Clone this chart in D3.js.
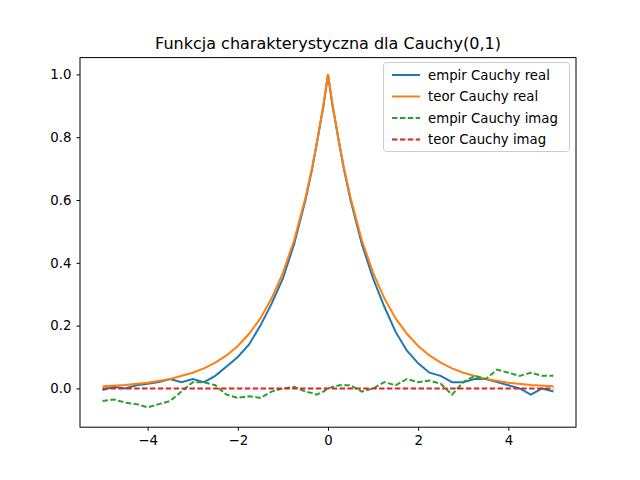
<!DOCTYPE html>
<html><head><meta charset="utf-8">
<script src="https://cdn.jsdelivr.net/npm/d3@7"></script>
<style>body{margin:0;background:#fff}text{font-family:"DejaVu Sans",sans-serif}</style>
</head><body>
<script>
const tEmp = [-5,-4.75,-4.5,-4.25,-4,-3.75,-3.5,-3.25,-3,-2.75,-2.5,-2.25,-2,-1.75,-1.5,-1.25,-1,-0.75,-0.5,-0.35,-0.25,-0.1,0,0.1,0.25,0.35,0.5,0.75,1,1.25,1.5,1.75,2,2.25,2.5,2.75,3,3.25,3.5,3.75,4,4.25,4.5,4.75,5];
const empReal = [-0.005,0.005,0.0,0.01,0.015,0.02,0.03,0.02,0.03,0.02,0.04,0.07,0.1,0.14,0.2,0.27,0.35,0.46,0.6,0.7,0.78,0.9,1.0,0.9,0.78,0.7,0.6,0.46,0.35,0.26,0.18,0.12,0.08,0.05,0.04,0.02,0.02,0.03,0.03,0.02,0.01,0.0,-0.02,0.0,-0.01];
const empImag = [-0.04,-0.035,-0.045,-0.05,-0.06,-0.05,-0.04,-0.01,0.02,0.02,0.01,-0.02,-0.03,-0.025,-0.03,-0.01,0.0,0.005,-0.01,-0.015,-0.02,-0.01,0.0,0.005,0.01,0.01,0.01,-0.01,0.0,0.02,0.01,0.03,0.02,0.025,0.015,-0.02,0.02,0.04,0.03,0.06,0.05,0.04,0.05,0.04,0.04];
const tTeor = [-5,-4.5,-4,-3.5,-3,-2.75,-2.5,-2.25,-2,-1.75,-1.5,-1.25,-1,-0.75,-0.5,-0.35,-0.25,-0.1,0,0.1,0.25,0.35,0.5,0.75,1,1.25,1.5,1.75,2,2.25,2.5,2.75,3,3.5,4,4.5,5];
const teorReal = [0.007,0.011,0.018,0.030,0.050,0.064,0.082,0.105,0.135,0.174,0.223,0.287,0.368,0.472,0.607,0.705,0.779,0.905,1.0,0.905,0.779,0.705,0.607,0.472,0.368,0.287,0.223,0.174,0.135,0.105,0.082,0.064,0.050,0.030,0.018,0.011,0.007];
const teorImag = tTeor.map(() => 0);
const xTicks = [-4,-2,0,2,4];
const yTicks = [0.0,0.2,0.4,0.6,0.8,1.0];
const labels = ['empir Cauchy real','teor Cauchy real','empir Cauchy imag','teor Cauchy imag'];

const W = 640, H = 480, m = {left:80, right:64, top:57.6, bottom:52.8};
const svg = d3.select('body').append('svg').attr('width', W).attr('height', H);
const x = d3.scaleLinear().domain([-5.5,5.5]).range([m.left, W-m.right]);
const y = d3.scaleLinear().domain([-0.1235,1.0535]).range([H-m.bottom, m.top]);

svg.append('g').attr('transform','translate(0,'+(H-m.bottom)+')')
  .call(d3.axisBottom(x).tickValues(xTicks).tickFormat(d => d < 0 ? '\u2212'+Math.abs(d) : d).tickSize(3.5).tickPadding(5))
  .call(g => g.select('.domain').remove());
svg.append('g').attr('transform','translate('+m.left+',0)')
  .call(d3.axisLeft(y).tickValues(yTicks).tickFormat(d3.format('.1f')).tickSize(3.5).tickPadding(5))
  .call(g => g.select('.domain').remove());
svg.selectAll('.tick text').attr('font-size', 13.3).attr('fill','#000');
svg.selectAll('.tick line').attr('stroke','#000');

const line = d3.line().x(d => x(d[0])).y(d => y(d[1]));
const series = [
  {t:tEmp, v:empReal, c:'#1f77b4', dash:null},
  {t:tTeor, v:teorReal, c:'#ff7f0e', dash:null},
  {t:tEmp, v:empImag, c:'#2ca02c', dash:'5.5,2.4'},
  {t:tTeor, v:teorImag, c:'#d62728', dash:'5.5,2.4'}
];
series.forEach(s => {
  svg.append('path').datum(s.t.map((t,i) => [t, s.v[i]]))
    .attr('d', line).attr('fill','none').attr('stroke', s.c).attr('stroke-width',2)
    .attr('stroke-dasharray', s.dash);
});

svg.append('rect').attr('x',m.left).attr('y',m.top).attr('width',W-m.left-m.right).attr('height',H-m.top-m.bottom)
  .attr('fill','none').attr('stroke','#000').attr('stroke-width',1);

svg.append('text').attr('x',(m.left+W-m.right)/2).attr('y',49).attr('text-anchor','middle')
  .attr('font-size',16).text('Funkcja charakterystyczna dla Cauchy(0,1)');

const lg = svg.append('g');
lg.append('rect').attr('x',383.5).attr('y',62.5).attr('width',186).attr('height',89)
  .attr('fill','#fff').attr('fill-opacity',0.8).attr('stroke','#ccc').attr('rx',3);
series.forEach((s,i) => {
  const yy = 75 + i*21.5;
  lg.append('line').attr('x1',392).attr('x2',420).attr('y1',yy).attr('y2',yy)
    .attr('stroke',s.c).attr('stroke-width',2).attr('stroke-dasharray',s.dash);
  lg.append('text').attr('x',428).attr('y',yy+4.5).attr('font-size',13.3).text(labels[i]);
});
</script>
</body></html>
